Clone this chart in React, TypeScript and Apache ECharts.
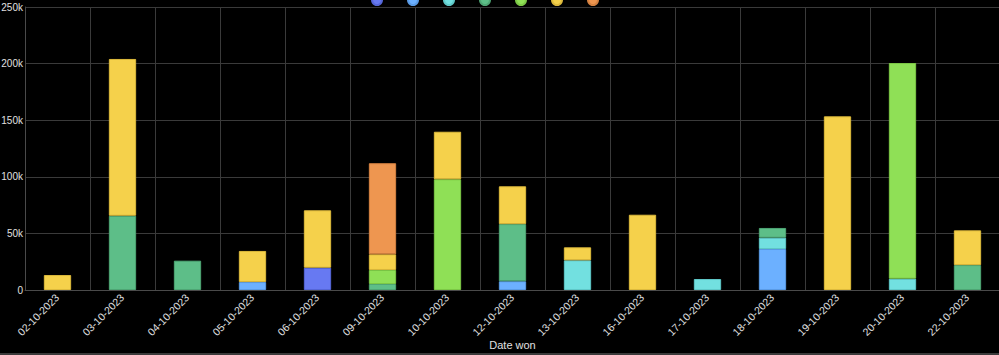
import React, { useEffect, useRef } from "react";
import * as echarts from "echarts";

const categories = [
  "02-10-2023", "03-10-2023", "04-10-2023", "05-10-2023", "06-10-2023",
  "09-10-2023", "10-10-2023", "12-10-2023", "13-10-2023", "16-10-2023",
  "17-10-2023", "18-10-2023", "19-10-2023", "20-10-2023", "22-10-2023",
];

const seriesNames = ["Series 1", "Series 2", "Series 3", "Series 4", "Series 5", "Series 6", "Series 7"];

const blueValues = [null, null, null, null, 19700, null, null, null, null, null, null, null, null, null, null];
const lightBlueValues = [null, null, null, 7000, null, null, null, 7700, null, null, null, 36200, null, null, null];
const cyanValues = [null, null, null, null, null, null, null, null, 26200, null, 9700, 10000, null, 10000, null];
const greenValues = [null, 65600, 25900, null, null, 5300, null, 50500, null, null, null, 8600, null, null, 22000];
const limeValues = [null, null, null, null, null, 12400, 97800, null, null, null, null, null, null, 190500, null];
const yellowValues = [13200, 138500, null, 27500, 50700, 13800, 42000, 33400, 11500, 66500, null, null, 153400, null, 30700];
const orangeValues = [null, null, null, null, null, 80500, null, null, null, null, null, null, null, null, null];

const yTicks = [0, 50000, 100000, 150000, 200000, 250000];

const colors = ["#6779F2", "#6CB0FF", "#72E0E0", "#5DBE88", "#8FE056", "#F5D14B", "#EE9650"];
const borders = ["#5566D8", "#5A9BE6", "#5FC8C8", "#4EA674", "#7CC846", "#DDBA3C", "#D68241"];

const SHIFT = 6;

export default function App() {
  const ref = useRef<HTMLDivElement>(null);
  useEffect(() => {
    if (!ref.current) return;
    const chart = echarts.init(ref.current, null, { renderer: "svg" });
    const all = [blueValues, lightBlueValues, cyanValues, greenValues, limeValues, yellowValues, orangeValues];
    const font = "'Liberation Sans', Arial, sans-serif";
    chart.setOption({
      animation: false,
      backgroundColor: "#000000",
      textStyle: { fontFamily: font },
      legend: {
        show: true,
        left: 371,
        top: 0,
        padding: [0, 0, 0, 0],
        icon: "circle",
        itemWidth: 10,
        itemHeight: 10,
        itemGap: 24,
        formatter: () => "",
        data: seriesNames,
        textStyle: { color: "#000", fontSize: 1 },
      },
      grid: { left: 25, right: -1, top: 7 + SHIFT, bottom: 65, containLabel: false, outerBoundsMode: "none" },
      xAxis: {
        type: "category",
        data: categories,
        boundaryGap: true,
        name: "Date won",
        nameLocation: "middle",
        nameGap: 49,
        nameMoveOverlap: false,
        nameTextStyle: { color: "#e0e0e0", fontSize: 11, fontFamily: font },
        axisLine: { show: true, lineStyle: { color: "#4a4a4a", width: 1 } },
        axisTick: { show: false },
        splitLine: { show: true, interval: 0, lineStyle: { color: "#3a3a3a", width: 1 } },
        axisLabel: {
          interval: 0,
          rotate: 45,
          color: "#e0e0e0",
          fontSize: 10.5,
          fontFamily: font,
          margin: 6,
        },
      },
      yAxis: {
        type: "value",
        min: 0,
        max: 250000,
        interval: 50000,
        axisLine: { show: true, lineStyle: { color: "#4a4a4a", width: 1 } },
        axisTick: { show: false },
        splitLine: { show: true, lineStyle: { color: "#3a3a3a", width: 1 } },
        axisLabel: {
          color: "#e0e0e0",
          fontSize: 10,
          fontFamily: font,
          margin: 2,
          formatter: (v: number) => (yTicks.includes(v) ? (v === 0 ? "0" : v / 1000 + "k") : ""),
        },
      },
      series: all.map((vals, i) => ({
        name: seriesNames[i],
        type: "bar",
        stack: "total",
        data: vals,
        barWidth: "42%",
        itemStyle: { color: colors[i], borderColor: borders[i], borderWidth: 1 },
      })),
      graphic: [
        {
          type: "rect",
          left: 0,
          top: 353 + SHIFT,
          shape: { width: 999, height: 2 },
          style: { fill: "#3a3a3a" },
        },
      ],
    });
    return () => chart.dispose();
  }, []);
  return (
    <div
      ref={ref}
      style={{ position: "fixed", left: 0, top: -SHIFT, width: 999, height: 355 + SHIFT }}
    />
  );
}
